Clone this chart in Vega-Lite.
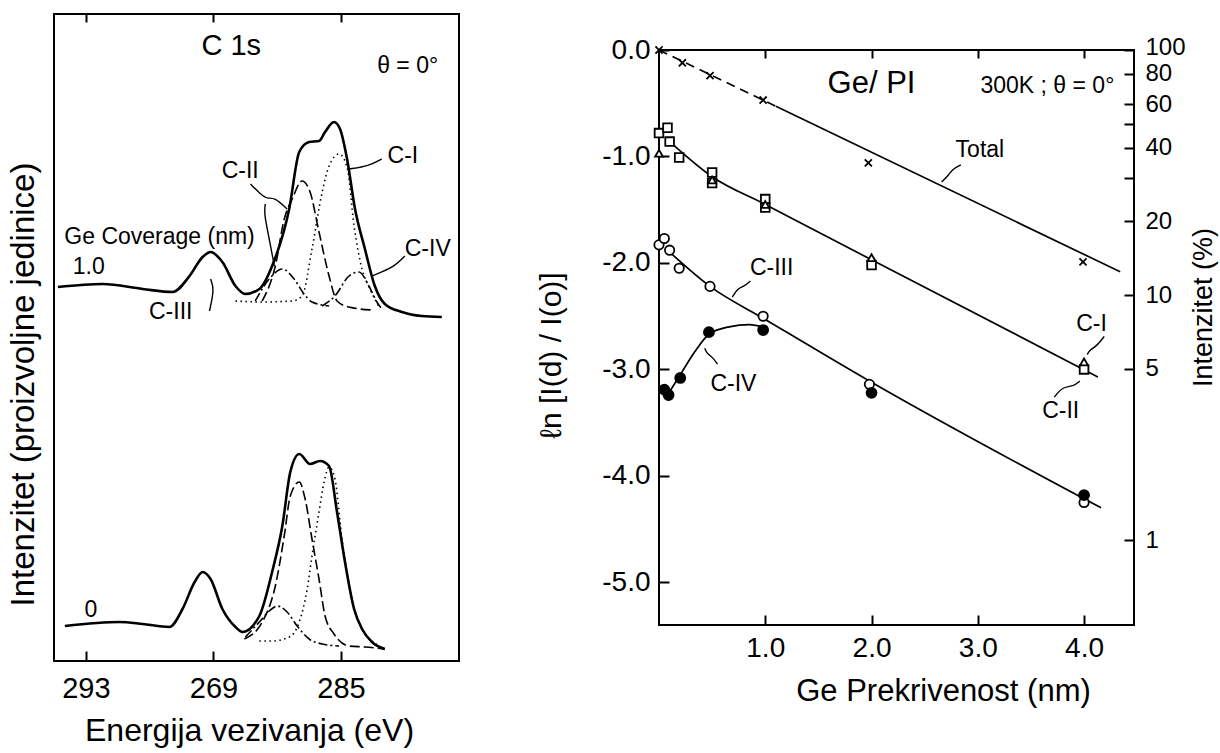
{
  "$schema": "https://vega.github.io/schema/vega-lite/v6.json",
  "background": "white",
  "padding": {"left": 5, "top": 12, "right": 5, "bottom": 5},
  "bounds": "flush",
  "center": true,
  "spacing": 200,
  "config": {
    "font": "Liberation Sans, Arial, sans-serif",
    "view": {"stroke": "black", "strokeWidth": 2},
    "axis": {"grid": false, "domain": false, "tickColor": "black", "tickWidth": 2, "labelColor": "black", "titleColor": "black", "titleFontWeight": "normal", "labelFont": "Liberation Sans", "titleFont": "Liberation Sans"},
    "text": {"color": "black", "font": "Liberation Sans"}
  },
  "datasets": {
    "spec": [
      {"c":"t0","k":"sum","s":"solid","E":293.88,"I":374},{"c":"t0","k":"sum","s":"solid","E":292.47,"I":377},{"c":"t0","k":"sum","s":"solid","E":291.22,"I":372},{"c":"t0","k":"sum","s":"solid","E":290.28,"I":369},{"c":"t0","k":"sum","s":"solid","E":289.75,"I":385},{"c":"t0","k":"sum","s":"solid","E":289.34,"I":404},{"c":"t0","k":"sum","s":"solid","E":289.09,"I":409},{"c":"t0","k":"sum","s":"solid","E":288.72,"I":399},{"c":"t0","k":"sum","s":"solid","E":288.31,"I":375},{"c":"t0","k":"sum","s":"solid","E":288.0,"I":367},{"c":"t0","k":"sum","s":"solid","E":287.56,"I":372},{"c":"t0","k":"sum","s":"solid","E":287.16,"I":395},{"c":"t0","k":"sum","s":"solid","E":286.625,"I":452},{"c":"t0","k":"sum","s":"solid","E":286.31,"I":509},{"c":"t0","k":"sum","s":"solid","E":286.0,"I":519},{"c":"t0","k":"sum","s":"solid","E":285.69,"I":520},{"c":"t0","k":"sum","s":"solid","E":285.5,"I":529},{"c":"t0","k":"sum","s":"solid","E":285.22,"I":539},{"c":"t0","k":"sum","s":"solid","E":285.03,"I":532},{"c":"t0","k":"sum","s":"solid","E":284.81,"I":502},{"c":"t0","k":"sum","s":"solid","E":284.56,"I":452},{"c":"t0","k":"sum","s":"solid","E":284.25,"I":412},{"c":"t0","k":"sum","s":"solid","E":283.94,"I":375},{"c":"t0","k":"sum","s":"solid","E":283.625,"I":357},{"c":"t0","k":"sum","s":"solid","E":283.09,"I":349},{"c":"t0","k":"sum","s":"solid","E":282.47,"I":345},{"c":"t0","k":"sum","s":"solid","E":281.84,"I":344},
      {"c":"t1","k":"comp","s":"dot","E":288.31,"I":360},{"c":"t1","k":"comp","s":"dot","E":287.47,"I":359},{"c":"t1","k":"comp","s":"dot","E":286.53,"I":360},{"c":"t1","k":"comp","s":"dot","E":286.22,"I":365},{"c":"t1","k":"comp","s":"dot","E":285.91,"I":412},{"c":"t1","k":"comp","s":"dot","E":285.59,"I":469},{"c":"t1","k":"comp","s":"dot","E":285.375,"I":495},{"c":"t1","k":"comp","s":"dot","E":285.06,"I":507},{"c":"t1","k":"comp","s":"dot","E":284.81,"I":494},{"c":"t1","k":"comp","s":"dot","E":284.59,"I":435},{"c":"t1","k":"comp","s":"dot","E":284.34,"I":392},{"c":"t1","k":"comp","s":"dot","E":284.09,"I":372},{"c":"t1","k":"comp","s":"dot","E":283.81,"I":354},
      {"c":"t2","k":"comp","s":"dash","E":287.47,"I":360},{"c":"t2","k":"comp","s":"dash","E":287.06,"I":395},{"c":"t2","k":"comp","s":"dash","E":286.78,"I":442},{"c":"t2","k":"comp","s":"dash","E":286.53,"I":462},{"c":"t2","k":"comp","s":"dash","E":286.22,"I":480},{"c":"t2","k":"comp","s":"dash","E":285.97,"I":469},{"c":"t2","k":"comp","s":"dash","E":285.69,"I":429},{"c":"t2","k":"comp","s":"dash","E":285.375,"I":385},{"c":"t2","k":"comp","s":"dash","E":285.125,"I":360},{"c":"t2","k":"comp","s":"dash","E":284.75,"I":354},{"c":"t2","k":"comp","s":"dash","E":284.03,"I":351},
      {"c":"t3","k":"comp","s":"dashdot","E":287.69,"I":360},{"c":"t3","k":"comp","s":"dashdot","E":287.25,"I":382},{"c":"t3","k":"comp","s":"dashdot","E":286.84,"I":392},{"c":"t3","k":"comp","s":"dashdot","E":286.47,"I":382},{"c":"t3","k":"comp","s":"dashdot","E":286.16,"I":367},{"c":"t3","k":"comp","s":"dashdot","E":285.91,"I":359},{"c":"t3","k":"comp","s":"dashdot","E":285.375,"I":355},
      {"c":"t4","k":"comp","s":"dashdot","E":285.59,"I":355},{"c":"t4","k":"comp","s":"dashdot","E":285.19,"I":365},{"c":"t4","k":"comp","s":"dashdot","E":284.75,"I":385},{"c":"t4","k":"comp","s":"dashdot","E":284.44,"I":389},{"c":"t4","k":"comp","s":"dashdot","E":284.125,"I":375},{"c":"t4","k":"comp","s":"dashdot","E":283.875,"I":359},{"c":"t4","k":"comp","s":"dashdot","E":283.72,"I":352},
      {"c":"b0","k":"sum","s":"solid","E":293.66,"I":35},{"c":"b0","k":"sum","s":"solid","E":291.94,"I":39},{"c":"b0","k":"sum","s":"solid","E":291.22,"I":37},{"c":"b0","k":"sum","s":"solid","E":290.38,"I":34},{"c":"b0","k":"sum","s":"solid","E":289.97,"I":52},{"c":"b0","k":"sum","s":"solid","E":289.59,"I":79},{"c":"b0","k":"sum","s":"solid","E":289.34,"I":89},{"c":"b0","k":"sum","s":"solid","E":289.09,"I":82},{"c":"b0","k":"sum","s":"solid","E":288.72,"I":52},{"c":"b0","k":"sum","s":"solid","E":288.31,"I":34},{"c":"b0","k":"sum","s":"solid","E":288.09,"I":29},{"c":"b0","k":"sum","s":"solid","E":287.56,"I":45},{"c":"b0","k":"sum","s":"solid","E":287.16,"I":89},{"c":"b0","k":"sum","s":"solid","E":286.84,"I":135},{"c":"b0","k":"sum","s":"solid","E":286.59,"I":189},{"c":"b0","k":"sum","s":"solid","E":286.31,"I":207},{"c":"b0","k":"sum","s":"solid","E":285.97,"I":197},{"c":"b0","k":"sum","s":"solid","E":285.66,"I":200},{"c":"b0","k":"sum","s":"solid","E":285.375,"I":195},{"c":"b0","k":"sum","s":"solid","E":285.125,"I":149},{"c":"b0","k":"sum","s":"solid","E":284.875,"I":99},{"c":"b0","k":"sum","s":"solid","E":284.59,"I":52},{"c":"b0","k":"sum","s":"solid","E":284.34,"I":32},{"c":"b0","k":"sum","s":"solid","E":284.03,"I":19},{"c":"b0","k":"sum","s":"solid","E":283.625,"I":12},
      {"c":"b1","k":"comp","s":"dot","E":287.56,"I":20},{"c":"b1","k":"comp","s":"dot","E":287.16,"I":20},{"c":"b1","k":"comp","s":"dot","E":286.625,"I":24},{"c":"b1","k":"comp","s":"dot","E":286.31,"I":39},{"c":"b1","k":"comp","s":"dot","E":286.06,"I":72},{"c":"b1","k":"comp","s":"dot","E":285.91,"I":105},{"c":"b1","k":"comp","s":"dot","E":285.69,"I":149},{"c":"b1","k":"comp","s":"dot","E":285.53,"I":179},{"c":"b1","k":"comp","s":"dot","E":285.375,"I":194},{"c":"b1","k":"comp","s":"dot","E":285.19,"I":182},{"c":"b1","k":"comp","s":"dot","E":284.97,"I":122},{"c":"b1","k":"comp","s":"dot","E":284.66,"I":62},{"c":"b1","k":"comp","s":"dot","E":284.34,"I":32},{"c":"b1","k":"comp","s":"dot","E":283.875,"I":17},
      {"c":"b2","k":"comp","s":"dash","E":288.03,"I":22},{"c":"b2","k":"comp","s":"dash","E":287.47,"I":39},{"c":"b2","k":"comp","s":"dash","E":287.06,"I":75},{"c":"b2","k":"comp","s":"dash","E":286.78,"I":125},{"c":"b2","k":"comp","s":"dash","E":286.59,"I":165},{"c":"b2","k":"comp","s":"dash","E":286.31,"I":179},{"c":"b2","k":"comp","s":"dash","E":286.125,"I":162},{"c":"b2","k":"comp","s":"dash","E":285.91,"I":122},{"c":"b2","k":"comp","s":"dash","E":285.69,"I":82},{"c":"b2","k":"comp","s":"dash","E":285.5,"I":45},{"c":"b2","k":"comp","s":"dash","E":285.22,"I":27},{"c":"b2","k":"comp","s":"dash","E":284.75,"I":15},{"c":"b2","k":"comp","s":"dash","E":284.25,"I":14},{"c":"b2","k":"comp","s":"dash","E":283.625,"I":12},
      {"c":"b3","k":"comp","s":"dashdot","E":288.0,"I":24},{"c":"b3","k":"comp","s":"dashdot","E":287.56,"I":39},{"c":"b3","k":"comp","s":"dashdot","E":287.25,"I":50},{"c":"b3","k":"comp","s":"dashdot","E":287.0,"I":55},{"c":"b3","k":"comp","s":"dashdot","E":286.69,"I":49},{"c":"b3","k":"comp","s":"dashdot","E":286.375,"I":35},{"c":"b3","k":"comp","s":"dashdot","E":286.0,"I":22},{"c":"b3","k":"comp","s":"dashdot","E":285.59,"I":17},{"c":"b3","k":"comp","s":"dashdot","E":285.06,"I":15}
    ],
    "larr": [
      {"a":"a1","E":287.84,"I":477},{"a":"a1","E":287.53,"I":467},{"a":"a1","E":287.31,"I":462},{"a":"a1","E":287.09,"I":464},{"a":"a1","E":286.69,"I":452},
      {"a":"a2","E":287.375,"I":457},{"a":"a2","E":287.41,"I":447},{"a":"a2","E":287.28,"I":427},{"a":"a2","E":287.09,"I":395},
      {"a":"a3","E":283.72,"I":502},{"a":"a3","E":284.125,"I":495},{"a":"a3","E":284.75,"I":492},
      {"a":"a4","E":283.0,"I":405},{"a":"a4","E":283.31,"I":395},{"a":"a4","E":283.72,"I":389},{"a":"a4","E":284.03,"I":385},
      {"a":"a5","E":289.125,"I":350},{"a":"a5","E":288.97,"I":372},{"a":"a5","E":289.09,"I":382}
    ],
    "ltxt": [
      {"t":"C 1s","r":"head","E":288.44,"I":615},
      {"t":"θ = 0°","r":"lab","E":282.91,"I":595},
      {"t":"Ge Coverage (nm)","r":"lab","E":290.69,"I":424},
      {"t":"1.0","r":"lab","E":292.91,"I":394},
      {"t":"C-II","r":"lab","E":288.16,"I":490},
      {"t":"C-I","r":"lab","E":283.06,"I":505},
      {"t":"C-IV","r":"lab","E":282.28,"I":412},
      {"t":"C-III","r":"lab","E":290.34,"I":349},
      {"t":"0","r":"lab","E":292.84,"I":51}
    ],
    "fits": [
      {"c":"T1","s":"dash","x":0,"v":0},{"c":"T1","s":"dash","x":1.1,"v":-0.528},
      {"c":"T2","s":"solid","x":1.1,"v":-0.528},{"c":"T2","s":"solid","x":4.34,"v":-2.083},
      {"c":"L12","s":"solid","x":0.1,"v":-0.86},{"c":"L12","s":"solid","x":0.5,"v":-1.19},{"c":"L12","s":"solid","x":1.0,"v":-1.45},{"c":"L12","s":"solid","x":2.0,"v":-1.97},{"c":"L12","s":"solid","x":4.13,"v":-3.07},
      {"c":"L3","s":"solid","x":0.08,"v":-1.88},{"c":"L3","s":"solid","x":0.48,"v":-2.22},{"c":"L3","s":"solid","x":1.0,"v":-2.53},{"c":"L3","s":"solid","x":2.0,"v":-3.12},{"c":"L3","s":"solid","x":4.16,"v":-4.30},
      {"c":"L4","s":"solid","x":0.08,"v":-3.24},{"c":"L4","s":"solid","x":0.2,"v":-3.05},{"c":"L4","s":"solid","x":0.34,"v":-2.83},{"c":"L4","s":"solid","x":0.47,"v":-2.67},{"c":"L4","s":"solid","x":0.66,"v":-2.60},{"c":"L4","s":"solid","x":0.85,"v":-2.58},{"c":"L4","s":"solid","x":1.0,"v":-2.61}
    ],
    "pts": [
      {"g":"Total","x":0,"v":0},{"g":"Total","x":0.22,"v":-0.12},{"g":"Total","x":0.48,"v":-0.24},{"g":"Total","x":0.98,"v":-0.47},{"g":"Total","x":1.97,"v":-1.06},{"g":"Total","x":3.99,"v":-1.99},
      {"g":"C-II","x":0,"v":-0.78},{"g":"C-II","x":0.08,"v":-0.73},{"g":"C-II","x":0.1,"v":-0.86},{"g":"C-II","x":0.19,"v":-1.01},{"g":"C-II","x":0.5,"v":-1.15},{"g":"C-II","x":0.5,"v":-1.25},{"g":"C-II","x":1.0,"v":-1.40},{"g":"C-II","x":1.0,"v":-1.48},{"g":"C-II","x":2.0,"v":-2.02},{"g":"C-II","x":4.0,"v":-3.0},
      {"g":"C-I","x":0,"v":-0.97},{"g":"C-I","x":0.5,"v":-1.22},{"g":"C-I","x":1.0,"v":-1.45},{"g":"C-I","x":2.0,"v":-1.95},{"g":"C-I","x":4.0,"v":-2.93},
      {"g":"C-III","x":0,"v":-1.83},{"g":"C-III","x":0.05,"v":-1.77},{"g":"C-III","x":0.1,"v":-1.88},{"g":"C-III","x":0.19,"v":-2.05},{"g":"C-III","x":0.48,"v":-2.22},{"g":"C-III","x":0.98,"v":-2.50},{"g":"C-III","x":1.98,"v":-3.14},{"g":"C-III","x":4.0,"v":-4.25},
      {"g":"C-IV","x":0.05,"v":-3.19},{"g":"C-IV","x":0.09,"v":-3.24},{"g":"C-IV","x":0.2,"v":-3.08},{"g":"C-IV","x":0.47,"v":-2.65},{"g":"C-IV","x":0.98,"v":-2.63},{"g":"C-IV","x":2.0,"v":-3.22},{"g":"C-IV","x":4.0,"v":-4.18}
    ],
    "rarr": [
      {"a":"b1","x":2.84,"v":-1.08},{"a":"b1","x":2.76,"v":-1.12},{"a":"b1","x":2.73,"v":-1.17},{"a":"b1","x":2.66,"v":-1.24},
      {"a":"b2","x":0.86,"v":-2.17},{"a":"b2","x":0.80,"v":-2.22},{"a":"b2","x":0.74,"v":-2.24},{"a":"b2","x":0.69,"v":-2.32},
      {"a":"b3","x":0.55,"v":-2.95},{"a":"b3","x":0.50,"v":-2.88},{"a":"b3","x":0.45,"v":-2.85},{"a":"b3","x":0.43,"v":-2.80},
      {"a":"b4","x":4.19,"v":-2.69},{"a":"b4","x":4.12,"v":-2.78},{"a":"b4","x":4.05,"v":-2.82},{"a":"b4","x":4.03,"v":-2.86},
      {"a":"b5","x":3.72,"v":-3.26},{"a":"b5","x":3.80,"v":-3.16},{"a":"b5","x":3.90,"v":-3.16},{"a":"b5","x":3.96,"v":-3.11}
    ],
    "rtxt": [
      {"t":"Ge/ PI","r":"head","x":2.0,"v":-0.32},
      {"t":"300K ; θ = 0°","r":"lab","x":3.655,"v":-0.34},
      {"t":"Total","r":"lab","x":3.02,"v":-0.94},
      {"t":"C-III","r":"lab","x":1.06,"v":-2.045},
      {"t":"C-IV","r":"lab","x":0.70,"v":-3.14},
      {"t":"C-I","r":"lab","x":4.07,"v":-2.57},
      {"t":"C-II","r":"lab","x":3.78,"v":-3.39}
    ]
  },
  "hconcat": [
    {
      "width": 405,
      "height": 647,
      "layer": [
        {
          "data": {"name": "spec"},
          "transform": [{"filter": "datum.k == 'sum'"}],
          "mark": {"type": "line", "interpolate": "monotone", "color": "black", "strokeWidth": 2.6},
          "encoding": {
            "x": {"field": "E", "type": "quantitative", "scale": {"domain": [281.3, 294], "reverse": true, "nice": false, "zero": false},
              "axis": {"orient": "bottom", "values": [293, 289, 285], "labelExpr": "datum.value == 289 ? '269' : datum.label", "tickSize": 10, "offset": -10, "labelFontSize": 29, "labelPadding": 13, "title": "Energija vezivanja (eV)", "titleFontSize": 32, "titleBaseline": "middle", "titleX": 195, "titleY": 79}},
            "y": {"field": "I", "type": "quantitative", "scale": {"domain": [0, 647], "nice": false, "zero": false},
              "axis": {"orient": "left", "ticks": false, "labels": false, "title": "Intenzitet (proizvoljne jedinice)", "titleFontSize": 33, "titleAngle": 270, "titleBaseline": "middle", "titleAlign": "center", "titleX": -31, "titleY": 370}},
            "detail": {"field": "c"}
          }
        },
        {
          "data": {"name": "spec"},
          "transform": [{"filter": "datum.k == 'comp'"}],
          "mark": {"type": "line", "interpolate": "monotone", "color": "black", "strokeWidth": 1.6},
          "encoding": {
            "x": {"field": "E", "type": "quantitative", "axis": {"orient": "top", "values": [293, 289, 285], "labels": false, "tickSize": 8, "offset": -8, "title": null}},
            "y": {"field": "I", "type": "quantitative", "axis": null},
            "detail": {"field": "c"},
            "strokeDash": {"field": "s", "type": "nominal", "scale": {"domain": ["dot", "dash", "dashdot"], "range": [[1.5, 3.5], [10, 4], [9, 3, 2, 3]]}, "legend": null}
          }
        },
        {
          "data": {"name": "larr"},
          "mark": {"type": "line", "interpolate": "basis", "color": "black", "strokeWidth": 1.4},
          "encoding": {
            "x": {"field": "E", "type": "quantitative", "axis": null},
            "y": {"field": "I", "type": "quantitative", "axis": null},
            "detail": {"field": "a"},
            "order": {"value": null}
          }
        },
        {
          "data": {"name": "ltxt"},
          "transform": [{"filter": "datum.r == 'head'"}],
          "mark": {"type": "text", "fontSize": 29, "align": "center", "baseline": "middle"},
          "encoding": {
            "x": {"field": "E", "type": "quantitative", "axis": null},
            "y": {"field": "I", "type": "quantitative", "axis": null},
            "text": {"field": "t"}
          }
        },
        {
          "data": {"name": "ltxt"},
          "transform": [{"filter": "datum.r == 'lab'"}],
          "mark": {"type": "text", "fontSize": 23, "align": "center", "baseline": "middle"},
          "encoding": {
            "x": {"field": "E", "type": "quantitative", "axis": null},
            "y": {"field": "I", "type": "quantitative", "axis": null},
            "text": {"field": "t"}
          }
        }
      ],
      "resolve": {"axis": {"x": "independent", "y": "independent"}}
    },
    {
      "width": 475,
      "height": 575,
      "layer": [
        {
          "layer": [
            {
              "data": {"name": "fits"},
              "transform": [{"filter": "datum.s == 'solid'"}],
              "mark": {"type": "line", "interpolate": "monotone", "color": "black", "strokeWidth": 1.7},
              "encoding": {
                "x": {"field": "x", "type": "quantitative", "scale": {"domain": [0, 4.47], "nice": false, "zero": false},
                  "axis": {"orient": "bottom", "values": [1, 2, 3, 4], "format": ".1f", "tickSize": 10, "offset": -10, "labelFontSize": 28, "labelPadding": 9, "title": "Ge Prekrivenost (nm)", "titleFontSize": 31, "titleBaseline": "middle", "titleX": 284, "titleY": 76}},
                "y": {"field": "v", "type": "quantitative", "scale": {"domain": [-5.4, 0], "nice": false, "zero": false},
                  "axis": {"orient": "left", "values": [0, -1, -2, -3, -4, -5], "labelExpr": "datum.value == 0 ? '0.0' : '-' + format(-datum.value, '.1f')", "tickSize": 10, "offset": -10, "labelFontSize": 28, "labelPadding": 9, "title": "ℓn [I(d) / I(o)]", "titleFontSize": 30, "titleAngle": 270, "titleBaseline": "middle", "titleAlign": "center", "titleX": -118, "titleY": 305}},
                "detail": {"field": "c"}
              }
            },
            {
              "data": {"name": "fits"},
              "transform": [{"filter": "datum.s == 'dash'"}],
              "mark": {"type": "line", "color": "black", "strokeWidth": 1.7, "strokeDash": [9, 6]},
              "encoding": {
                "x": {"field": "x", "type": "quantitative", "axis": null},
                "y": {"field": "v", "type": "quantitative", "axis": null},
                "detail": {"field": "c"}
              }
            },
            {
              "data": {"name": "pts"},
              "mark": {"type": "point", "filled": true, "stroke": "black", "strokeWidth": 1.8, "opacity": 1},
              "encoding": {
                "x": {"field": "x", "type": "quantitative", "axis": {"orient": "top", "values": [1, 2, 3, 4], "labels": false, "tickSize": 8, "offset": -8, "title": null}},
                "y": {"field": "v", "type": "quantitative", "axis": null},
                "shape": {"field": "g", "type": "nominal", "scale": {"domain": ["Total", "C-I", "C-II", "C-III", "C-IV"], "range": ["M-1,-1L1,1M-1,1L1,-1", "triangle-up", "square", "circle", "circle"]}, "legend": null},
                "fill": {"field": "g", "type": "nominal", "scale": {"domain": ["Total", "C-I", "C-II", "C-III", "C-IV"], "range": ["black", "white", "white", "white", "black"]}, "legend": null},
                "size": {"field": "g", "type": "nominal", "scale": {"domain": ["Total", "C-I", "C-II", "C-III", "C-IV"], "range": [50, 100, 95, 110, 120]}, "legend": null}
              }
            },
            {
              "data": {"name": "rarr"},
              "mark": {"type": "line", "interpolate": "basis", "color": "black", "strokeWidth": 1.4},
              "encoding": {
                "x": {"field": "x", "type": "quantitative", "axis": null},
                "y": {"field": "v", "type": "quantitative", "axis": null},
                "detail": {"field": "a"},
                "order": {"value": null}
              }
            },
            {
              "data": {"name": "rtxt"},
              "transform": [{"filter": "datum.r == 'head'"}],
              "mark": {"type": "text", "fontSize": 31, "align": "center", "baseline": "middle"},
              "encoding": {
                "x": {"field": "x", "type": "quantitative", "axis": null},
                "y": {"field": "v", "type": "quantitative", "axis": null},
                "text": {"field": "t"}
              }
            },
            {
              "data": {"name": "rtxt"},
              "transform": [{"filter": "datum.r == 'lab'"}],
              "mark": {"type": "text", "fontSize": 23, "align": "center", "baseline": "middle"},
              "encoding": {
                "x": {"field": "x", "type": "quantitative", "axis": null},
                "y": {"field": "v", "type": "quantitative", "axis": null},
                "text": {"field": "t"}
              }
            }
          ],
          "resolve": {"axis": {"x": "independent", "y": "independent"}}
        },
        {
          "data": {"values": [{"p": 100}, {"p": 0.4517}]},
          "mark": {"type": "point", "opacity": 0},
          "encoding": {
            "y": {"field": "p", "type": "quantitative", "scale": {"type": "log", "domain": [0.4517, 100], "nice": false},
              "axis": {"orient": "right", "values": [100, 80, 60, 50, 40, 30, 20, 10, 5, 1], "labelExpr": "datum.value == 50 || datum.value == 30 ? '' : datum.label", "labelOffset": {"condition": {"test": "datum.value == 100", "value": -3}, "value": 0}, "tickSize": 10, "offset": -10, "labelOverlap": false, "labelFlush": false, "labelPadding": 11, "labelFontSize": 24, "title": "Intenzitet (%)", "titleFontSize": 27, "titleAngle": 270, "titleBaseline": "middle", "titleAlign": "center", "titleX": 79, "titleY": 257}}
          }
        }
      ],
      "resolve": {"scale": {"y": "independent"}, "axis": {"y": "independent"}}
    }
  ]
}
